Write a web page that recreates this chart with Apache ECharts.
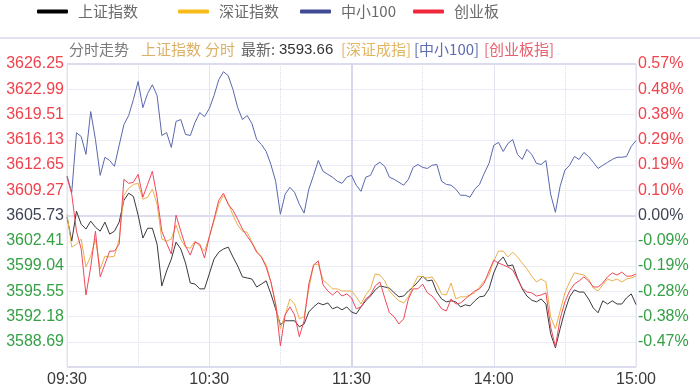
<!DOCTYPE html>
<html><head><meta charset="utf-8">
<script src="https://cdn.jsdelivr.net/npm/echarts@6/dist/echarts.min.js"></script>
<style>html,body{margin:0;padding:0;background:#fff}#c{width:700px;height:388px}</style>
</head><body><div id="c"></div>
<script>
// ---- categories (2-minute samples of the trading day) ----
const times = [
'09:30','09:32','09:34','09:36','09:38','09:40','09:42','09:44','09:46','09:48','09:50','09:52','09:54','09:56','09:58',
'10:00','10:02','10:04','10:06','10:08','10:10','10:12','10:14','10:16','10:18','10:20','10:22','10:24','10:26','10:28',
'10:30','10:32','10:34','10:36','10:38','10:40','10:42','10:44','10:46','10:48','10:50','10:52','10:54','10:56','10:58',
'11:00','11:02','11:04','11:06','11:08','11:10','11:12','11:14','11:16','11:18','11:20','11:22','11:24','11:26','11:28','11:30',
'13:02','13:04','13:06','13:08','13:10','13:12','13:14','13:16','13:18','13:20','13:22','13:24','13:26','13:28',
'13:30','13:32','13:34','13:36','13:38','13:40','13:42','13:44','13:46','13:48','13:50','13:52','13:54','13:56','13:58',
'14:00','14:02','14:04','14:06','14:08','14:10','14:12','14:14','14:16','14:18','14:20','14:22','14:24','14:26','14:28',
'14:30','14:32','14:34','14:36','14:38','14:40','14:42','14:44','14:46','14:48','14:50','14:52','14:54','14:56','14:58',
'15:00'];
const xTickLabels = ['09:30','10:30','11:30','14:00','15:00'];
const halfHourLines = ['10:00','11:00','13:30','14:30'];
const middayLabel = '11:30';

// ---- y tick labels (top to bottom) ----
const leftLabels = ['3626.25','3622.99','3619.51','3616.13','3612.65','3609.27','3605.73','3602.41','3599.04','3595.55','3592.18','3588.69'];
const rightLabels = ['0.57%','0.48%','0.38%','0.29%','0.19%','0.10%','0.00%','-0.09%','-0.19%','-0.28%','-0.38%','-0.47%'];

// ---- series names ----
const seriesNames = ['上证指数','深证指数','中小100','创业板'];

// ---- series values: % change vs previous close ----
const shPct = [
-0.006,-0.096,0.016,-0.033,-0.051,-0.021,-0.044,-0.059,-0.025,-0.070,
-0.059,-0.025,0.057,0.084,0.072,0.001,-0.085,-0.048,-0.048,-0.108,
-0.265,-0.209,-0.164,-0.100,-0.126,-0.179,-0.254,-0.258,-0.276,-0.276,
-0.220,-0.164,-0.138,-0.126,-0.119,-0.156,-0.190,-0.231,-0.235,-0.239,
-0.269,-0.258,-0.246,-0.295,-0.351,-0.411,-0.396,-0.396,-0.396,-0.419,
-0.408,-0.363,-0.344,-0.329,-0.336,-0.329,-0.351,-0.344,-0.355,-0.344,
-0.363,-0.370,-0.344,-0.321,-0.303,-0.280,-0.265,-0.269,-0.273,-0.291,
-0.306,-0.303,-0.284,-0.269,-0.250,-0.228,-0.246,-0.243,-0.288,-0.314,
-0.325,-0.321,-0.325,-0.344,-0.336,-0.340,-0.321,-0.306,-0.303,-0.276,
-0.216,-0.175,-0.156,-0.190,-0.186,-0.235,-0.276,-0.303,-0.318,-0.325,
-0.314,-0.333,-0.445,-0.498,-0.426,-0.359,-0.306,-0.280,-0.288,-0.288,
-0.314,-0.348,-0.366,-0.321,-0.333,-0.321,-0.333,-0.333,-0.310,-0.295,-0.335];
const szPct = [
0.005,-0.119,-0.108,-0.089,-0.194,-0.153,-0.089,-0.201,-0.153,-0.156,
-0.153,-0.089,0.076,0.102,0.117,0.121,0.061,0.069,0.099,0.042,
-0.089,-0.096,-0.089,-0.036,-0.089,-0.119,-0.123,-0.096,-0.115,-0.134,
-0.081,-0.021,0.042,0.076,0.046,0.001,-0.036,-0.059,-0.063,-0.100,
-0.134,-0.156,-0.186,-0.250,-0.333,-0.426,-0.374,-0.314,-0.333,-0.389,
-0.381,-0.276,-0.186,-0.183,-0.243,-0.258,-0.276,-0.276,-0.284,-0.284,
-0.284,-0.306,-0.333,-0.299,-0.276,-0.220,-0.224,-0.246,-0.284,-0.303,
-0.321,-0.329,-0.306,-0.265,-0.228,-0.231,-0.235,-0.231,-0.258,-0.295,
-0.299,-0.254,-0.314,-0.306,-0.306,-0.299,-0.291,-0.269,-0.246,-0.224,
-0.171,-0.134,-0.134,-0.156,-0.138,-0.156,-0.179,-0.201,-0.228,-0.250,
-0.239,-0.250,-0.381,-0.426,-0.359,-0.291,-0.250,-0.216,-0.220,-0.224,
-0.239,-0.273,-0.284,-0.261,-0.239,-0.246,-0.239,-0.250,-0.239,-0.235,-0.228];
const zxPct = [
0.149,0.087,0.311,0.297,0.230,0.391,0.286,0.151,0.219,0.207,
0.185,0.264,0.342,0.376,0.436,0.504,0.406,0.459,0.492,0.451,
0.301,0.312,0.256,0.354,0.361,0.305,0.301,0.350,0.387,0.372,
0.402,0.451,0.511,0.541,0.526,0.474,0.406,0.361,0.376,0.346,
0.286,0.267,0.241,0.192,0.129,0.005,0.080,0.106,0.087,0.042,
0.009,0.099,0.151,0.207,0.166,0.155,0.144,0.129,0.121,0.144,
0.151,0.114,0.091,0.144,0.151,0.189,0.200,0.185,0.144,0.136,
0.125,0.114,0.136,0.181,0.192,0.181,0.177,0.189,0.192,0.129,
0.117,0.114,0.099,0.076,0.076,0.069,0.099,0.117,0.159,0.196,
0.264,0.275,0.241,0.271,0.286,0.230,0.211,0.249,0.230,0.196,
0.192,0.207,0.080,0.012,0.110,0.170,0.189,0.222,0.211,0.237,
0.222,0.200,0.177,0.189,0.200,0.211,0.219,0.219,0.222,0.260,0.282];
const cyPct = [
0.144,0.080,-0.059,-0.126,-0.299,-0.194,-0.059,-0.231,-0.183,-0.134,
-0.134,-0.108,0.136,0.121,0.125,0.155,0.069,0.117,0.166,0.069,
-0.059,-0.104,-0.145,0.001,-0.059,-0.115,-0.149,-0.100,-0.108,-0.160,
-0.081,-0.014,0.057,0.084,0.042,0.020,-0.014,-0.051,-0.078,-0.104,
-0.138,-0.156,-0.194,-0.250,-0.333,-0.490,-0.374,-0.344,-0.374,-0.456,
-0.396,-0.258,-0.186,-0.171,-0.261,-0.284,-0.299,-0.284,-0.303,-0.295,
-0.310,-0.351,-0.344,-0.314,-0.299,-0.265,-0.250,-0.310,-0.366,-0.381,
-0.408,-0.389,-0.314,-0.276,-0.276,-0.258,-0.291,-0.303,-0.325,-0.351,
-0.359,-0.314,-0.333,-0.329,-0.314,-0.299,-0.284,-0.276,-0.254,-0.209,
-0.168,-0.179,-0.186,-0.194,-0.205,-0.239,-0.273,-0.288,-0.291,-0.303,
-0.299,-0.291,-0.419,-0.494,-0.389,-0.325,-0.284,-0.258,-0.246,-0.231,
-0.246,-0.269,-0.269,-0.254,-0.231,-0.216,-0.224,-0.213,-0.228,-0.228,-0.220];
const latestValue = '3593.66';

// ---- styling ----
const lineColors = ['#3a3a3a','#ebb04a','#5a68ac','#f0485a'];
const legendColors = ['#000000','#f8bc18','#3f4b94','#f0263a'];
const FONT = "'Liberation Sans', Arial, sans-serif";
const CJK = "'Noto Sans CJK SC', sans-serif";
const yMin = -0.57, yMax = 0.57, yStep = 0.095;
function rowOf(v){ return 12 - Math.round((v - yMin) / yStep); } // 0 = top row
function rowColor(k){ return k < 6 ? '#ef434d' : (k === 6 ? '#3f4456' : '#35a045'); }

const chart = echarts.init(document.getElementById('c'), null, {renderer:'canvas'});

const legendLefts = [37, 178, 300, 413];
const legends = seriesNames.map((n, i) => ({
  data: [n], left: legendLefts[i], top: 4, padding: 0, itemGap: 0,
  itemWidth: 31, itemHeight: 4, icon: 'roundRect',
  textStyle: {fontFamily: CJK, fontSize: 15, color: '#6a6a6a', padding: [0,0,0,5]}
}));

const seriesData = [shPct, szPct, zxPct, cyPct];
const series = seriesNames.map((n, i) => ({
  name: n, type: 'line', data: seriesData[i], xAxisIndex: 0, yAxisIndex: 0,
  showSymbol: false, symbol: 'none', smooth: false, animation: false, z: 3 + i,
  lineStyle: {color: lineColors[i], width: 1},
  itemStyle: {color: legendColors[i]},
  emphasis: {disabled: true}
}));
series[0].markLine = {
  silent: true, symbol: ['none', 'none'], animation: false, label: {show: false},
  emphasis: {disabled: true}, z: 1,
  lineStyle: {color: '#d6d6ec', width: 2, type: 'solid', opacity: 1},
  data: [{xAxis: middayLabel}]
};

const subtitleParts = [
  {x: 69, text: '分时走势', color: '#7a7a7a', font: CJK},
  {x: 141, text: '上证指数', color: '#dbb168', font: CJK},
  {x: 205, text: '分时', color: '#dbb168', font: CJK},
  {x: 241, text: '最新:', color: '#666666', font: CJK},
  {x: 279, text: latestValue, color: '#333333', font: FONT},
  {x: 341, text: '[深证成指]', color: '#e2b560', font: CJK},
  {x: 414, text: '[中小100]', color: '#5e6cb0', font: CJK},
  {x: 484, text: '[创业板指]', color: '#e8606e', font: CJK}
];

const option = {
  backgroundColor: '#ffffff',
  animation: false,
  legend: legends,
  graphic: [
    {type: 'rect', shape: {x: 0, y: 37, width: 700, height: 2}, style: {fill: '#e2e2f0'}, silent: true},
  ].concat(subtitleParts.map(p => ({
    type: 'text', left: p.x, top: 42, silent: true,
    style: {text: p.text, fill: p.color, font: '15px ' + p.font}
  }))),
  grid: {left: 67, right: 64, top: 64, bottom: 19, show: true, borderColor: '#e3e3f1', borderWidth: 1, containLabel: false},
  xAxis: [
    {type: 'category', data: times, boundaryGap: false,
     axisLine: {show: false}, axisTick: {show: false},
     axisLabel: {fontFamily: FONT, fontSize: 16, color: '#3a3a3a', margin: 5,
       interval: (i, v) => xTickLabels.indexOf(v) >= 0, showMaxLabel: true, showMinLabel: true},
     splitLine: {show: true, interval: (i, v) => xTickLabels.indexOf(v) >= 0 && v !== middayLabel, lineStyle: {color: '#e2e2f2', width: 1}}
    },
    {type: 'category', data: times, boundaryGap: false, position: 'bottom',
     axisLine: {show: false}, axisTick: {show: false}, axisLabel: {show: false},
     splitLine: {show: true, interval: (i, v) => halfHourLines.indexOf(v) >= 0, lineStyle: {color: '#dcdcec', width: 1, type: 'dotted'}}
    }
  ],
  yAxis: [
    {type: 'value', min: yMin, max: yMax, interval: yStep, position: 'left',
     axisLine: {show: false}, axisTick: {show: false},
     splitLine: {show: true, lineStyle: {color: '#ececf6', width: 1}},
     axisLabel: {fontFamily: FONT, fontSize: 16, margin: 3, showMinLabel: true, showMaxLabel: true,
       formatter: v => { const k = rowOf(v); return (k >= 0 && k < 12) ? leftLabels[k] : ''; },
       color: v => rowColor(rowOf(v))}
    },
    {type: 'value', min: yMin, max: yMax, interval: yStep, position: 'right',
     axisLine: {show: false}, axisTick: {show: false}, splitLine: {show: false},
     axisLabel: {fontFamily: FONT, fontSize: 16, margin: 2, showMinLabel: true, showMaxLabel: true,
       formatter: v => { const k = rowOf(v); return (k >= 0 && k < 12) ? rightLabels[k] : ''; },
       color: v => rowColor(rowOf(v))}
    },
    {type: 'value', min: yMin, max: yMax, interval: yMax, position: 'right', show: true,
     axisLine: {show: false}, axisTick: {show: false}, axisLabel: {show: false},
     splitLine: {show: true, lineStyle: {color: '#dcdcef', width: 2}}
    }
  ],
  series: series
};
chart.setOption(option);
</script></body></html>
